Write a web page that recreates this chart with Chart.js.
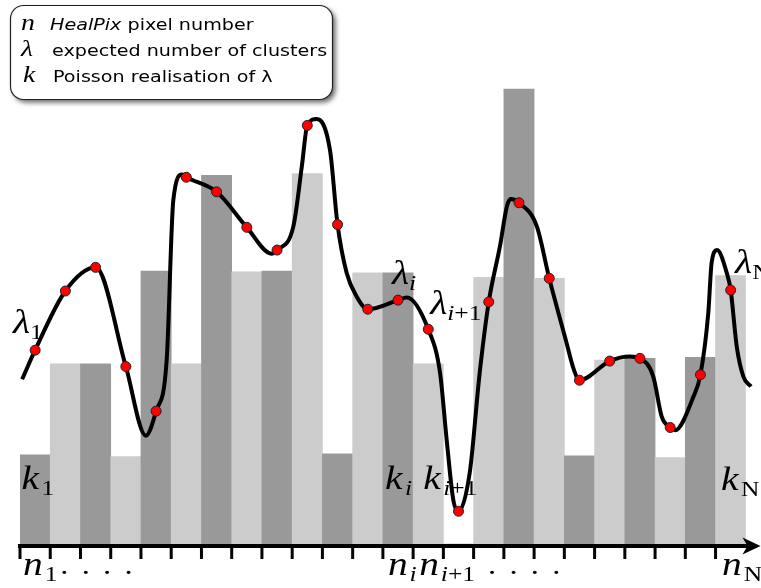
<!DOCTYPE html>
<html>
<head>
<meta charset="utf-8">
<script src="https://cdn.jsdelivr.net/npm/chart.js@4.4.1/dist/chart.umd.min.js"></script>
<style>
  html, body { margin: 0; padding: 0; background: #fff; }
  #wrap { position: relative; width: 761px; height: 588px; }
</style>
</head>
<body>
<div id="wrap"><canvas id="c" width="761" height="588"></canvas></div>
<script>
// HealPix pixels along the horizontal axis
const pixels = ['1','2','3','4','5','6','7','8','9','10','11','12',
                '13','14','15','16','17','18','19','20','21','22','23','24'];

// k: Poisson realisation drawn in each pixel
const counts = [0.98, 1.98, 1.98, 0.96, 3.00, 1.98, 4.05, 2.99, 3.00, 4.07, 0.99, 2.98,
                2.98, 1.98, 0.00, 2.93, 5.00, 2.92, 0.97, 2.02, 2.04, 0.95, 2.05, 2.95];

// lambda: expected number of clusters at each pixel centre
const lambda = [2.13, 2.78, 3.04, 1.95, 1.46, 4.03, 3.87, 3.48, 3.23, 4.60, 3.51, 2.58,
                2.68, 2.36, 0.36, 2.66, 3.75, 2.92, 1.80, 2.01, 2.04, 1.28, 1.86, 2.79];

// further samples of the smooth lambda(n) curve between pixel centres (x in pixel units)
const curveX = [-0.43, 3.66, 4.35, 4.57, 4.86, 7.82, 8.54, 8.82, 9.31, 9.75, 10.30, 10.63,
                12.29, 13.39, 13.61, 13.83, 14.37, 14.70, 15.37, 15.60, 15.73, 16.59, 17.55, 17.82,
                19.67, 20.44, 20.72, 21.16, 21.77, 22.26, 22.37, 22.55, 22.87, 23.20, 23.42, 23.67];
const curveY = [1.81, 1.19, 2.02, 3.78, 4.06, 3.19, 3.49, 4.15, 4.67, 4.33, 2.98, 2.72,
                2.71, 1.88, 1.14, 0.48, 0.78, 1.88, 3.27, 3.71, 3.79, 3.49, 2.24, 1.91,
                2.06, 1.84, 1.40, 1.25, 1.62, 2.54, 3.09, 3.23, 2.98, 2.17, 1.84, 1.73];

// annotated pixels and their symbol subscripts
const markedBars = [0, 12, 13, 23];
const subscripts = ['1', 'i', 'i+1', 'N'];

// ---- build the line dataset: marked samples at pixel centres + curve samples ----
const curvePoints = lambda.map((v, i) => ({ x: i, y: v, mark: true }))
  .concat(curveX.map((x, i) => ({ x: x, y: curveY[i], mark: false })))
  .sort((a, b) => a.x - b.x);

const STRETCH = 1.16;
const MATH = '"Liberation Serif", "DejaVu Serif", serif';
const SANS = '"DejaVu Sans", sans-serif';

function drawText(ctx, s, x, y, font) {
  ctx.save();
  ctx.font = font;
  ctx.translate(x, y);
  ctx.scale(STRETCH, 1);
  ctx.fillText(s, 0, 0);
  const w = ctx.measureText(s).width * STRETCH;
  ctx.restore();
  return w;
}

function mathLabel(ctx, x, y, main, sub, size, subSize, gap) {
  const w = drawText(ctx, main, x, y, 'italic ' + size + 'px ' + MATH);
  let sx = x + w + gap;
  for (const ch of sub) {
    const italic = /[a-z]/.test(ch) ? 'italic ' : '';
    sx += drawText(ctx, ch, sx, y + 6, italic + subSize + 'px ' + MATH);
  }
}

// label placement: offset from the left edge of the marked pixel, and from the baseline
const lambdaPos = [[-7, -211], [9, -260], [17, -230], [19.5, -271]];
const countPos  = [[1.5, -55], [2, -55], [10, -55], [5.5, -54]];
const tickPos   = [[3, 31], [5, 31], [6, 31], [6.5, 31]];
const dotRuns   = [[1, 12], [15, 16.4]];

const figurePlugin = {
  id: 'figure',
  afterDatasetsDraw(chart) {
    const ctx = chart.ctx;
    const xs = chart.scales.x;
    const base = chart.scales.y.getPixelForValue(0);
    const bw = xs.getPixelForValue(1) - xs.getPixelForValue(0);
    const edge = i => xs.getPixelForValue(i) - bw / 2;
    const ay = base + 2;

    ctx.save();
    ctx.fillStyle = '#000';
    ctx.strokeStyle = '#000';

    // horizontal axis with arrow
    ctx.lineWidth = 4;
    ctx.beginPath();
    ctx.moveTo(edge(0) - 2, ay);
    ctx.lineTo(chart.width - 12, ay);
    ctx.stroke();
    ctx.lineWidth = 3;
    for (let i = 0; i < pixels.length; i++) {
      const px = edge(i);
      ctx.beginPath();
      ctx.moveTo(px, ay);
      ctx.lineTo(px, ay + 13);
      ctx.stroke();
    }
    const tip = chart.width - 0.5;
    ctx.beginPath();
    ctx.moveTo(tip, ay);
    ctx.lineTo(tip - 18, ay - 8.5);
    ctx.lineTo(tip - 13, ay);
    ctx.lineTo(tip - 18, ay + 8.5);
    ctx.closePath();
    ctx.fill();

    // lambda, k and n labels
    markedBars.forEach((b, j) => {
      mathLabel(ctx, edge(b) + lambdaPos[j][0], base + lambdaPos[j][1], '\u03bb', subscripts[j], 34, 22, 0);
      mathLabel(ctx, edge(b) + countPos[j][0], base + countPos[j][1], 'k', subscripts[j], 34, 22, 2.5);
      mathLabel(ctx, edge(b) + tickPos[j][0], base + tickPos[j][1], 'n', subscripts[j], 34, 22, 2);
    });
    dotRuns.forEach(([b, dx]) => {
      for (let d = 0; d < 4; d++) {
        drawText(ctx, '.', edge(b) + dx + d * 21.4 - 2, base + 30, '28px ' + MATH);
      }
    });
    ctx.restore();
  },
  afterDraw(chart) {
    const ctx = chart.ctx;
    ctx.save();
    // legend box
    ctx.shadowColor = 'rgba(0,0,0,0.6)';
    ctx.shadowBlur = 5;
    ctx.shadowOffsetX = 3;
    ctx.shadowOffsetY = 3;
    ctx.fillStyle = '#fff';
    ctx.beginPath();
    ctx.roundRect(10.5, 5.5, 322, 94, 13);
    ctx.fill();
    ctx.shadowColor = 'transparent';
    ctx.lineWidth = 1.2;
    ctx.strokeStyle = '#222';
    ctx.stroke();

    ctx.fillStyle = '#000';
    drawText(ctx, 'n', 21, 30, 'italic 24px ' + MATH);
    const w = drawText(ctx, 'HealPix', 50, 30, 'italic 16.5px ' + SANS);
    drawText(ctx, ' pixel number', 50 + w, 30, '16.5px ' + SANS);
    drawText(ctx, '\u03bb', 21, 55.5, 'italic 24px ' + MATH);
    drawText(ctx, 'expected number of clusters', 52, 55.5, '16.5px ' + SANS);
    drawText(ctx, 'k', 23, 82, 'italic 24px ' + MATH);
    drawText(ctx, 'Poisson realisation of \u03bb', 53, 82, '16.5px ' + SANS);
    ctx.restore();
  }
};

new Chart(document.getElementById('c'), {
  type: 'bar',
  data: {
    labels: pixels,
    datasets: [
      {
        type: 'line',
        label: 'lambda',
        data: curvePoints,
        xAxisID: 'xl',
        yAxisID: 'y',
        order: 0,
        borderColor: '#000',
        borderWidth: 4,
        cubicInterpolationMode: 'monotone',
        fill: false,
        clip: false,
        pointRadius: c => (c.raw && c.raw.mark ? 5 : 0),
        pointBackgroundColor: '#ff0000',
        pointBorderColor: '#222',
        pointBorderWidth: 1
      },
      {
        type: 'bar',
        label: 'k',
        data: counts,
        xAxisID: 'x',
        yAxisID: 'y',
        order: 1,
        grouped: false,
        backgroundColor: counts.map((_, i) => (i % 2 === 0 ? '#999999' : '#cccccc')),
        borderWidth: 0,
        barPercentage: 1.0,
        categoryPercentage: 1.0
      }
    ]
  },
  options: {
    responsive: false,
    animation: false,
    events: [],
    layout: { padding: { left: 20, right: 15.2, top: 0, bottom: 44 } },
    plugins: { legend: { display: false }, tooltip: { enabled: false }, title: { display: false } },
    scales: {
      x: { type: 'category', display: false, offset: true, grid: { display: false } },
      xl: { type: 'linear', display: false, offset: false, min: -0.5, max: 23.5, grid: { offset: false } },
      y: { type: 'linear', display: false, min: 0, max: 544 / 91 }
    }
  },
  plugins: [figurePlugin]
});
</script>
</body>
</html>
